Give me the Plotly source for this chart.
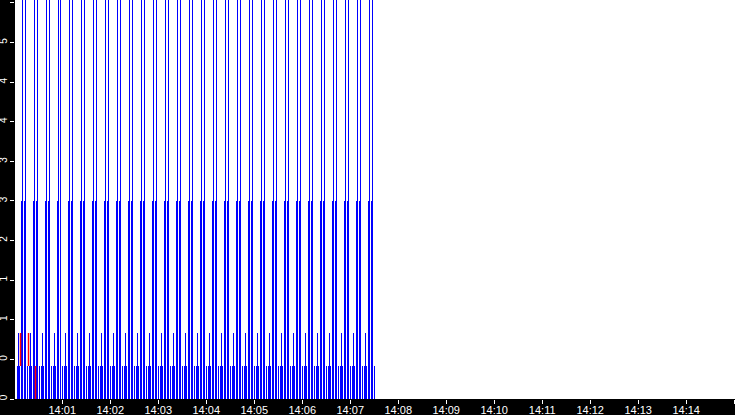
import pandas as pd
import plotly.graph_objects as go

# one 15 s cycle of the signal: offset (s) and level of each pulse
cycle_offsets = [0, 1.25, 2.5, 5, 6.25, 8.75, 10, 12.5]
cycle_levels = [0.5, 1, 0.5, 3, 6.5, 3, 6.5, 0.5]

# start of every cycle, seconds after 14:00:00
cycle_starts = [3.4, 18.4, 33.4, 48.4, 63.4, 78.4, 93.4, 108.4, 123.4, 138.4,
                153.4, 168.4, 183.4, 198.4, 213.4, 228.4, 243.4, 258.4, 273.4, 288.4,
                303.4, 318.4, 333.4, 348.4, 363.4, 378.4, 393.4, 408.4, 423.4, 438.4]

# red pulses at the start (visible part: from red_base up to red_levels)
red_secs = [7.8, 17.8, 26.5]
red_levels = [1, 1, 0.5]
red_base = [0.5, 0.5, 0]

y_ticks = [0, 0.6, 1.2, 1.8, 2.4, 3.0, 3.6, 4.2, 4.8, 5.4, 6.0]
y_labels = ["0", "0", "1", "1", "2", "3", "3", "4", "4", "5", "6"]

t0 = pd.Timestamp("2024-01-01 14:00:00")


def ts(sec):
    return (t0 + pd.Timedelta(seconds=sec)).strftime("%Y-%m-%d %H:%M:%S.%f")


blue_x, blue_y = [], []
for s in cycle_starts:
    for off, lvl in zip(cycle_offsets, cycle_levels):
        blue_x.append(ts(s + off))
        blue_y.append(lvl)

# red pulses as vertical segments
red_x, red_y = [], []
for s, b, top in zip(red_secs, red_base, red_levels):
    red_x += [ts(s), ts(s), None]
    red_y += [b, top, None]

# alpha just under 1 makes plotly snap thin bars to whole pixels
fig = go.Figure()
fig.add_trace(go.Bar(x=blue_x, y=blue_y, width=1250,
                     marker=dict(color="rgba(0,0,255,0.999)", line=dict(width=0))))
fig.add_trace(go.Scatter(x=red_x, y=red_y, mode="lines",
                         line=dict(color="#ff0000", width=1.5)))

fig.update_layout(
    width=735, height=415,
    margin=dict(l=15, r=0, t=0, b=16, pad=0),
    paper_bgcolor="black", plot_bgcolor="white",
    showlegend=False, barmode="overlay", bargap=0, bargroupgap=0,
    font=dict(family="Liberation Sans, Arial", size=11, color="white"),
)
fig.update_xaxes(
    type="date", automargin=False,
    range=[ts(0.9), ts(901)],
    tick0=ts(0), dtick=60000, tickformat="%H:%M",
    ticks="outside", ticklen=4, tickcolor="white", tickwidth=1,
    ticklabelstandoff=-3,
    showgrid=False, zeroline=False, showline=False,
)
fig.update_yaxes(
    range=[0, 6.045], automargin=False,
    tickvals=y_ticks, ticktext=y_labels, tickangle=-90,
    ticks="outside", ticklen=4, tickcolor="white", tickwidth=1,
    ticklabelstandoff=-1,
    tickfont=dict(size=10),
    showgrid=False, zeroline=False, showline=False,
)

fig.write_html("out.html", config={"displayModeBar": False},
               post_script="document.body.style.margin='0';")
